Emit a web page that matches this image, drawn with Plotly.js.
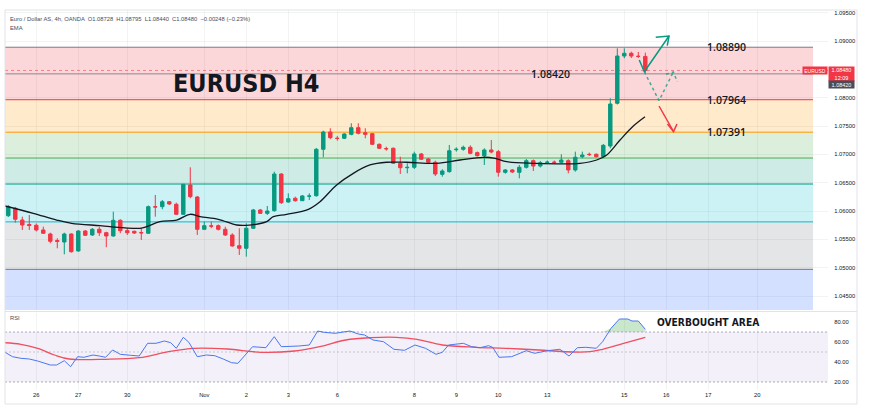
<!DOCTYPE html>
<html>
<head>
<meta charset="utf-8">
<script src="https://cdn.plot.ly/plotly-3.0.1.min.js"></script>
<style>
    html, body { margin: 0; padding: 0; background: #ffffff; }
    #chart { width: 870px; height: 419px; }
</style>
</head>
<body>
<div id="chart"></div>
<script>
// 4h candles (last one matches the header O/H/L/C)
const opens = [
    1.05917, 1.06048, 1.05841, 1.05762, 1.05748, 1.05665, 1.05594, 1.05480, 1.05453, 1.05594,
    1.05295, 1.05647, 1.05577, 1.05677, 1.05617, 1.05559, 1.05836, 1.05653, 1.05642, 1.05620,
    1.05607, 1.06076, 1.06076, 1.06164, 1.06119, 1.05942, 1.06459, 1.06247, 1.05677, 1.05738,
    1.05741, 1.05677, 1.05577, 1.05388, 1.05342, 1.05695, 1.06018, 1.05959, 1.06006, 1.06653,
    1.06159, 1.06225, 1.06182, 1.06262, 1.06270, 1.07089, 1.07394, 1.07285, 1.07283, 1.07353,
    1.07470, 1.07382, 1.07364, 1.07177, 1.07103, 1.07107, 1.06842, 1.06764, 1.06771, 1.07006,
    1.06918, 1.06860, 1.06647, 1.06694, 1.07082, 1.07089, 1.07124, 1.07030, 1.06976, 1.07077,
    1.07047, 1.06683, 1.06724, 1.06683, 1.06771, 1.06888, 1.06794, 1.06858, 1.06862, 1.06860,
    1.06888, 1.06724, 1.06958, 1.07001, 1.07001, 1.06958, 1.07147, 1.07901, 1.08735, 1.08783,
    1.08731, 1.08728
];
const highs = [
    1.06106, 1.06071, 1.05900, 1.05930, 1.05780, 1.05723, 1.05617, 1.05519, 1.05617, 1.05607,
    1.05660, 1.05665, 1.05700, 1.05723, 1.05634, 1.05988, 1.05854, 1.05695, 1.05653, 1.05695,
    1.06097, 1.06283, 1.06194, 1.06176, 1.06147, 1.06477, 1.06771, 1.06265, 1.05812, 1.05812,
    1.05762, 1.05723, 1.05607, 1.05695, 1.05783, 1.06036, 1.06036, 1.06089, 1.06694, 1.06665,
    1.06312, 1.06253, 1.06283, 1.06312, 1.07112, 1.07417, 1.07460, 1.07324, 1.07371, 1.07548,
    1.07548, 1.07460, 1.07376, 1.07191, 1.07135, 1.07121, 1.06958, 1.06842, 1.07047, 1.07024,
    1.06936, 1.06888, 1.06736, 1.07165, 1.07124, 1.07153, 1.07159, 1.07050, 1.07106, 1.07253,
    1.07077, 1.06741, 1.06741, 1.06812, 1.06918, 1.06909, 1.06883, 1.06891, 1.06891, 1.07001,
    1.06913, 1.07047, 1.07047, 1.07030, 1.07015, 1.07183, 1.07989, 1.08871, 1.08871, 1.08811,
    1.08806, 1.08795
];
const lows = [
    1.05894, 1.05794, 1.05665, 1.05665, 1.05639, 1.05594, 1.05430, 1.05342, 1.05236, 1.05264,
    1.05282, 1.05559, 1.05559, 1.05559, 1.05360, 1.05547, 1.05607, 1.05577, 1.05594, 1.05489,
    1.05594, 1.05900, 1.06030, 1.06106, 1.05930, 1.05930, 1.06225, 1.05577, 1.05665, 1.05695,
    1.05656, 1.05559, 1.05371, 1.05224, 1.05194, 1.05683, 1.05947, 1.05930, 1.05988, 1.06124,
    1.06147, 1.06164, 1.06176, 1.06194, 1.06253, 1.06948, 1.07266, 1.07241, 1.07271, 1.07336,
    1.07353, 1.07283, 1.07165, 1.07094, 1.07064, 1.06830, 1.06653, 1.06665, 1.06741, 1.06900,
    1.06848, 1.06618, 1.06606, 1.06677, 1.07047, 1.07064, 1.07000, 1.06962, 1.06812, 1.07018,
    1.06606, 1.06659, 1.06671, 1.06577, 1.06750, 1.06706, 1.06768, 1.06830, 1.06830, 1.06842,
    1.06665, 1.06694, 1.06930, 1.06971, 1.06944, 1.06948, 1.07107, 1.07880, 1.08695, 1.08700,
    1.08700, 1.08440
];
const closes = [
    1.06076, 1.05854, 1.05753, 1.05744, 1.05665, 1.05607, 1.05466, 1.05462, 1.05594, 1.05282,
    1.05647, 1.05572, 1.05677, 1.05617, 1.05559, 1.05836, 1.05653, 1.05617, 1.05612, 1.05614,
    1.06076, 1.06070, 1.06164, 1.06124, 1.05942, 1.06471, 1.06253, 1.05677, 1.05741, 1.05733,
    1.05677, 1.05577, 1.05383, 1.05342, 1.05695, 1.06018, 1.05959, 1.06000, 1.06653, 1.06147,
    1.06217, 1.06182, 1.06265, 1.06265, 1.07089, 1.07394, 1.07294, 1.07280, 1.07359, 1.07470,
    1.07371, 1.07353, 1.07177, 1.07107, 1.07097, 1.06842, 1.06764, 1.06770, 1.07006, 1.06913,
    1.06860, 1.06653, 1.06706, 1.07064, 1.07089, 1.07124, 1.07018, 1.06976, 1.07077, 1.07041,
    1.06683, 1.06724, 1.06688, 1.06771, 1.06888, 1.06794, 1.06853, 1.06862, 1.06858, 1.06900,
    1.06724, 1.06948, 1.06988, 1.06995, 1.06958, 1.07159, 1.07888, 1.08735, 1.08783, 1.08735,
    1.08728, 1.08480
];

// EMA line, points (bar index, price)
const emaIdx = [-0.47, 3.57, 6.91, 9.06, 13.1, 14.53, 18.81, 19.77, 21.67, 24.06, 25.96, 27.39, 30,
    32.63, 34.06, 36.91, 37.86, 39.77, 42.86, 44.53, 46.91, 49.29, 51.67, 54.06, 56.91, 61.2, 64.53,
    67.86, 69.53, 71.2, 75, 81.67, 84.06, 85.49, 87.39, 89.29, 90.96];
const emaVal = [1.06089, 1.05960, 1.05841, 1.05783, 1.05741, 1.05723, 1.05695, 1.05723, 1.05812,
    1.05841, 1.05942, 1.05900, 1.05854, 1.05753, 1.05748, 1.05812, 1.05900, 1.05942, 1.06030,
    1.06164, 1.06459, 1.06665, 1.06812, 1.06860, 1.06860, 1.06842, 1.06900, 1.06948, 1.06930,
    1.06870, 1.06842, 1.06842, 1.06900, 1.06988, 1.07253, 1.07500, 1.07664];

// RSI and its moving average
const rsiIdx = [-0.6, 0.6, 1.8, 3.0, 4.2, 6.0, 6.9, 8.0, 8.9, 9.9, 10.8, 12.1, 13.0, 13.9, 14.9,
    16.0, 17.5, 18.7, 19.9, 21.1, 22.3, 23.2, 24.0, 25.0, 25.8, 27.0, 28.3, 29.5, 30.7, 31.9, 32.8,
    34.9, 36.8, 38.0, 39.0, 40.3, 41.5, 43.0, 44.2, 45.1, 46.7, 48.8, 50.0, 50.9, 52.1, 53.6, 55.1,
    56.6, 58.1, 59.6, 61.1, 62.0, 62.9, 65.0, 66.2, 67.4, 68.6, 69.2, 70.1, 71.9, 74.0, 75.2, 77.0,
    78.8, 80.1, 81.3, 82.5, 84.0, 84.9, 86.1, 87.3, 88.5, 89.1, 90.0, 91.0];
const rsiVal = [50.3, 45.3, 43.7, 43, 41, 37, 37, 41.3, 35.3, 45.3, 44.7, 47, 46, 44.7, 52, 47.7,
    46.7, 46, 58.7, 58.7, 61, 59.3, 53.7, 64.7, 59.7, 45.3, 47, 46.3, 43, 39.3, 38.7, 55.3, 54.3,
    65.3, 55.3, 55.3, 56, 57, 71, 69.7, 68.7, 71, 68, 67, 62, 60.3, 52.7, 51.7, 57, 53.7, 47.7,
    49.7, 57, 58.7, 55.3, 54.3, 56.3, 54.7, 44.7, 45.3, 51.3, 48.7, 51.3, 52.7, 46, 54.3, 54.7,
    53.7, 60.3, 73.7, 83, 83, 81, 81, 72.7];
const rsiMaIdx = [-0.6, 1.8, 4.2, 6.6, 8.7, 13.9, 18.7, 22.9, 26.5, 31.3, 36.1, 40.9, 44.5, 48.2,
    51.8, 55.4, 58.4, 62.0, 66.8, 71.0, 75.8, 79.4, 83.1, 84.9, 87.9, 91.0];
const rsiMaVal = [59.3, 57.7, 53.7, 47, 43, 42.7, 44.3, 50.3, 53.7, 53, 49.7, 51, 55.3, 62, 64.3,
    64.7, 62.7, 57, 54.7, 53.7, 52, 50.3, 50.3, 52.7, 58.7, 64.7];

// fibonacci retracement levels and the support line
const fibLevels = [1.08890, 1.07964, 1.07391, 1.06935, 1.06476, 1.05808, 1.04970];
const fibLabels = ["1.08890", "1.07964", "1.07391"];
const supportLevel = 1.08420;
const lastPrice = 1.08480;

// date axis
const dayTicks = [4, 10, 17, 28, 34, 40, 47, 58, 64, 70, 77, 88, 94, 100, 107];
const dayLabels = ["26", "27", "30", "Nov", "2", "3", "6", "8", "9", "10", "13", "15", "16", "17", "20"];

// hand drawn arrows (bar index, price)
const greenPathIdx = [90.14, 90.86, 94.39];
const greenPathPx = [1.08665, 1.08458, 1.09088];
const greenHeadIdx = [92.49, 94.39, 94.14];
const greenHeadPx = [1.09065, 1.09088, 1.08917];
const dotPathIdx = [90.86, 92.96, 95.0];
const dotPathPx = [1.08458, 1.07947, 1.08453];
const dotHeadIdx = [93.96, 95.0, 95.57];
const dotHeadPx = [1.08412, 1.08453, 1.08282];
const redPathIdx = [92.96, 95.03];
const redPathPx = [1.07853, 1.07403];
const redHeadIdx = [94.17, 95.03, 95.53];
const redHeadPx = [1.07535, 1.07403, 1.07535];

// 1.08500 sits under the price label, so it is not shown
const priceTicks = [1.045, 1.050, 1.055, 1.060, 1.065, 1.070, 1.075, 1.080, 1.090, 1.095];
const rsiTicks = [20, 40, 60, 80];


document.addEventListener("DOMContentLoaded", () => {
    renderChart();
});


// pixel -> paper helpers (plot area is 5..828 x 10..390)
function px(x) {
    return (x - 5) / 823;
}

function py(y) {
    return 1 - (y - 10) / 380;
}


function renderChart() {
    const candleIdx = closes.map((_, i) => i);
    const xRange = [-0.47, 117.1];
    const fibEnd = 114.96;
    const yRange = [1.04253, 1.09547];
    const rsiRange = [12, 89];

    const fibLine = ["#787b86", "#f23645", "#ff9800", "#4caf50", "#089981", "#00bcd4", "#787b86"];
    const fibFill = [
        "rgba(242,54,69,0.2)",
        "rgba(255,152,0,0.2)",
        "rgba(76,175,80,0.2)",
        "rgba(8,153,129,0.2)",
        "rgba(0,188,212,0.2)",
        "rgba(120,123,134,0.2)",
        "rgba(41,98,255,0.2)"
    ];

    const shapes = [];

    fibLevels.forEach((level, k) => {
        const lower = k + 1 < fibLevels.length ? fibLevels[k + 1] : yRange[0];
        shapes.push({
            type: "rect", xref: "x", yref: "y", layer: "between",
            x0: xRange[0], x1: fibEnd, y0: lower, y1: level,
            fillcolor: fibFill[k], line: { width: 0 }
        });
    });

    fibLevels.forEach((level, k) => {
        shapes.push({
            type: "line", xref: "x", yref: "y", layer: "between",
            x0: xRange[0], x1: fibEnd, y0: level, y1: level,
            line: { color: fibLine[k], width: 1 }
        });
    });

    // support line and current price line
    shapes.push({
        type: "line", xref: "x", yref: "y", layer: "between",
        x0: xRange[0], x1: fibEnd, y0: supportLevel, y1: supportLevel,
        line: { color: "#868993", width: 1 }
    });
    shapes.push({
        type: "line", xref: "x", yref: "y", layer: "between",
        x0: xRange[0], x1: xRange[1], y0: lastPrice, y1: lastPrice,
        line: { color: "rgba(242,54,69,0.55)", width: 1, dash: "dot" }
    });

    // RSI band
    shapes.push({
        type: "rect", xref: "paper", yref: "y2", layer: "below",
        x0: 0, x1: 1, y0: 20, y1: 70,
        fillcolor: "rgba(126,87,194,0.09)", line: { width: 0 }
    });
    [70, 50, 20].forEach(level => {
        shapes.push({
            type: "line", xref: "paper", yref: "y2", layer: "between",
            x0: 0, x1: 1, y0: level, y1: level,
            line: {
                color: level === 50 ? "rgba(120,123,134,0.35)" : "rgba(120,123,134,0.6)",
                width: 1, dash: "2px,2px"
            }
        });
    });

    // pane separator and frame
    shapes.push({
        type: "line", xref: "paper", yref: "paper",
        x0: 0, x1: px(857), y0: py(311.5), y1: py(311.5),
        line: { color: "#e0e3eb", width: 1 }
    });
    shapes.push({
        type: "rect", xref: "paper", yref: "paper",
        x0: 0, x1: px(857), y0: py(404), y1: py(10),
        line: { color: "#e0e3eb", width: 1 }
    });

    const traces = [
        {
            type: "candlestick",
            x: candleIdx,
            open: opens,
            high: highs,
            low: lows,
            close: closes,
            xaxis: "x",
            yaxis: "y",
            whiskerwidth: 0,
            increasing: { line: { color: "#089981", width: 1 }, fillcolor: "#089981" },
            decreasing: { line: { color: "#f23645", width: 1 }, fillcolor: "#f23645" },
            hoverinfo: "skip"
        },
        {
            type: "scatter", mode: "lines",
            x: emaIdx, y: emaVal, xaxis: "x", yaxis: "y",
            line: { color: "#131722", width: 1.3, shape: "spline" },
            hoverinfo: "skip"
        },
        arrowTrace(greenPathIdx, greenPathPx, "#089981", "solid"),
        arrowTrace(greenHeadIdx, greenHeadPx, "#089981", "solid"),
        arrowTrace(dotPathIdx, dotPathPx, "rgba(8,153,129,0.75)", "dot"),
        arrowTrace(dotHeadIdx, dotHeadPx, "rgba(8,153,129,0.75)", "dot"),
        arrowTrace(redPathIdx, redPathPx, "#f23645", "solid"),
        arrowTrace(redHeadIdx, redHeadPx, "#f23645", "solid"),
        {
            type: "scatter", mode: "lines",
            x: rsiIdx, y: rsiIdx.map(() => 70), xaxis: "x", yaxis: "y2",
            line: { width: 0 }, hoverinfo: "skip"
        },
        {
            type: "scatter", mode: "lines",
            x: rsiIdx, y: rsiVal.map(v => Math.max(v, 70)), xaxis: "x", yaxis: "y2",
            line: { width: 0 }, fill: "tonexty", fillcolor: "rgba(76,175,80,0.3)",
            hoverinfo: "skip"
        },
        {
            type: "scatter", mode: "lines",
            x: rsiMaIdx, y: rsiMaVal, xaxis: "x", yaxis: "y2",
            line: { color: "#ef4f5f", width: 1.3, shape: "spline" },
            hoverinfo: "skip"
        },
        {
            type: "scatter", mode: "lines",
            x: rsiIdx, y: rsiVal, xaxis: "x", yaxis: "y2",
            line: { color: "#4a78f0", width: 1 },
            hoverinfo: "skip"
        }
    ];

    const tickFont = { family: "Liberation Sans, Arial, sans-serif", size: 5.8, color: "#131722" };
    const levelFont = { family: "Open Sans, sans-serif", size: 10.5, color: "#131722", weight: 600 };

    const annotations = [
        {
            xref: "paper", yref: "paper", x: px(8), y: py(19),
            xanchor: "left", yanchor: "middle", showarrow: false,
            text: "Euro / Dollar AS, 4h, OANDA  O1.08728  H1.08795  L1.08440  C1.08480  \u22120.00248 (\u22120.23%)",
            font: { family: "Liberation Sans, sans-serif", size: 5.8, color: "#4a4d57" }
        },
        {
            xref: "paper", yref: "paper", x: px(8), y: py(28),
            xanchor: "left", yanchor: "middle", showarrow: false,
            text: "EMA", font: { family: "Liberation Sans, sans-serif", size: 5.8, color: "#4a4d57" }
        },
        {
            xref: "paper", yref: "paper", x: px(8), y: py(318),
            xanchor: "left", yanchor: "middle", showarrow: false,
            text: "RSI", font: { family: "Liberation Sans, sans-serif", size: 5.8, color: "#4a4d57" }
        },
        {
            xref: "paper", yref: "paper", x: px(246), y: py(83),
            xanchor: "center", yanchor: "middle", showarrow: false,
            text: "EURUSD H4",
            font: { family: "Liberation Sans Narrow, DejaVu Sans Condensed, Liberation Sans, sans-serif", size: 25, color: "#131722", weight: 700 }
        },
        {
            xref: "paper", yref: "y", x: px(529), y: supportLevel,
            xanchor: "left", yanchor: "middle", showarrow: false,
            text: "1.08420", font: levelFont
        },
        {
            xref: "paper", yref: "y2", x: px(655), y: 80,
            xanchor: "left", yanchor: "middle", showarrow: false,
            text: "OVERBOUGHT AREA",
            font: { family: "Liberation Sans Narrow, DejaVu Sans Condensed, Liberation Sans, sans-serif", size: 10.2, color: "#131722", weight: 700 }
        },
        {
            xref: "paper", yref: "y", x: px(815), y: lastPrice,
            xanchor: "center", yanchor: "middle", showarrow: false,
            text: "EURUSD", width: 24, height: 7, bgcolor: "#f23645", borderpad: 0,
            font: { family: "Liberation Sans, sans-serif", size: 5, color: "#ffffff" }
        },
        {
            xref: "paper", yref: "y", x: px(841.5), y: lastPrice,
            xanchor: "center", yanchor: "top", yshift: 4, showarrow: false,
            text: "1.08480<br>12:09", width: 25, height: 14, bgcolor: "#f23645", borderpad: 0,
            font: { family: "Liberation Sans, sans-serif", size: 5.5, color: "#ffffff" }
        },
        {
            xref: "paper", yref: "y", x: px(841.5), y: supportLevel,
            xanchor: "center", yanchor: "middle", yshift: -11, showarrow: false,
            text: "1.08420", width: 25, height: 7, bgcolor: "#4a4d57", borderpad: 0,
            font: { family: "Liberation Sans, sans-serif", size: 5.5, color: "#ffffff" }
        }
    ];

    fibLabels.forEach((label, k) => {
        annotations.push({
            xref: "paper", yref: "y", x: px(705), y: fibLevels[k],
            xanchor: "left", yanchor: "middle", showarrow: false,
            text: label, font: levelFont
        });
    });

    const layout = {
        width: 870,
        height: 419,
        margin: { l: 5, r: 42, t: 10, b: 29 },
        paper_bgcolor: "#ffffff",
        plot_bgcolor: "#ffffff",
        showlegend: false,
        hovermode: false,
        font: { family: "Liberation Sans, Arial, sans-serif", color: "#131722" },
        xaxis: {
            range: xRange,
            anchor: "y2",
            tickmode: "array",
            tickvals: dayTicks,
            ticktext: dayLabels,
            tickfont: tickFont,
            ticks: "",
            showgrid: true,
            gridcolor: "rgba(42,46,57,0.06)",
            zeroline: false,
            showline: false,
            rangeslider: { visible: false },
            fixedrange: true
        },
        yaxis: {
            domain: [py(310), 1],
            range: yRange,
            side: "right",
            anchor: "x",
            tickmode: "array",
            tickvals: priceTicks,
            tickformat: ".5f",
            tickfont: tickFont,
            ticks: "outside",
            ticklen: 4,
            tickcolor: "rgba(0,0,0,0)",
            showgrid: true,
            gridcolor: "rgba(42,46,57,0.06)",
            zeroline: false,
            fixedrange: true
        },
        yaxis2: {
            domain: [0, py(313)],
            range: rsiRange,
            side: "right",
            anchor: "x",
            tickmode: "array",
            tickvals: rsiTicks,
            tickformat: ".2f",
            tickfont: tickFont,
            ticks: "outside",
            ticklen: 4,
            tickcolor: "rgba(0,0,0,0)",
            showgrid: false,
            zeroline: false,
            fixedrange: true
        },
        shapes: shapes,
        annotations: annotations
    };

    Plotly.newPlot("chart", traces, layout, { staticPlot: true, displayModeBar: false });
}


function arrowTrace(xs, ys, color, dash) {
    return {
        type: "scatter", mode: "lines",
        x: xs, y: ys, xaxis: "x", yaxis: "y",
        line: { color: color, width: 1.5, dash: dash },
        hoverinfo: "skip"
    };
}
</script>
</body>
</html>
